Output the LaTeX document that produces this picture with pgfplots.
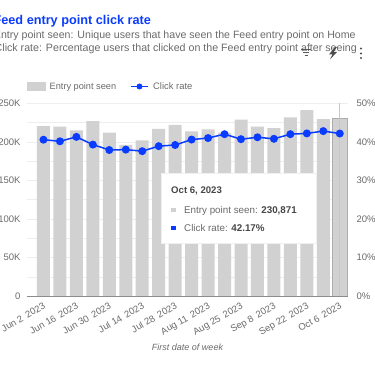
\documentclass[border=0pt]{standalone}
\usepackage{pgfplots}
\usepackage{fontspec}
\setmainfont{Liberation Sans}
\pgfplotsset{compat=1.18}
\definecolor{barc}{HTML}{D1D1D1}
\definecolor{bluec}{HTML}{0A3CFF}
\definecolor{txt}{HTML}{6A6A6A}
\definecolor{gridc}{HTML}{EEEEEE}
\pgfplotstableread{
x seen
0 220500
1 219700
2 215000
3 227000
4 212000
5 196000
6 202000
7 217000
8 222000
9 213600
10 216300
11 212000
12 229000
13 219700
14 218000
15 231800
16 241000
17 229600
}\seen
\pgfplotstableread{
x rate
0 40.57
1 40.16
2 41.3
3 39.3
4 37.9
5 38.0
6 37.6
7 38.9
8 39.2
9 40.6
10 41.0
11 42.0
12 40.7
13 41.2
14 40.8
15 42.0
16 42.2
17 42.8
18 42.17
}\rate
\begin{document}
\begin{tikzpicture}[x=1pt,y=1pt]
\path[use as bounding box] (0,0) rectangle (375,366);
\clip (0,0) rectangle (375,366);
\pgfplotsset{base/.style={
  at={(27pt,69.7pt)}, anchor=south west,
  width=321pt, height=193pt, scale only axis,
  xmin=-1.0, xmax=18.5, clip=false,
  tick style={draw=none},
  tick label style={font=\fontsize{9.5}{11}\selectfont, text=txt},
  /pgf/number format/assume math mode=true,
}}
\begin{axis}[base,
  axis y line*=left, axis x line*=bottom,
  axis line style={draw=none},
  ymin=0, ymax=250000,
  scaled y ticks=false,
  ytick={0,50000,100000,150000,200000,250000},
  yticklabels={0,50K,100K,150K,200K,250K},
  minor ytick={25000,75000,125000,175000,225000},
  ymajorgrids, yminorgrids,
  major grid style={gridc,line width=0.7pt},
  minor grid style={gridc,line width=0.7pt},
  yticklabel style={xshift=-3pt},
  xtick={0,2,...,18},
  xticklabels={Jun 2\, 2023,Jun 16\, 2023,Jun 30\, 2023,Jul 14\, 2023,Jul 28\, 2023,Aug 11\, 2023,Aug 25\, 2023,Sep 8\, 2023,Sep 22\, 2023,Oct 6\, 2023},
  xticklabel style={rotate=30, anchor=north east, xshift=0pt, yshift=-1pt},
  xlabel={First date of week},
  xlabel style={font=\fontsize{9}{11}\selectfont\itshape, text=txt, at={(axis description cs:0.5,0)}, anchor=center, yshift=-50.5pt, xshift=0pt},
]
\addplot[ybar, bar width=13pt, bar shift=0pt, fill=barc, draw=none] table[x=x,y=seen] {\seen};
\addplot[ybar, bar width=15.5pt, bar shift=0pt, fill=barc, draw=black!32, line width=0.6pt] coordinates {(18,230871)};
\addplot[black!22, line width=0.6pt] coordinates {(18,0) (18,250000)};
\addplot[black!45, line width=0.9pt] coordinates {(-1,0) (18.5,0)};
\end{axis}
\begin{axis}[base,
  axis y line*=right, axis x line=none,
  axis line style={draw=none},
  ymin=0, ymax=50,
  ytick={0,10,20,30,40,50},
  yticklabels={0\%,10\%,20\%,30\%,40\%,50\%},
  yticklabel style={anchor=west, xshift=5pt},
]
\addplot[bluec, line width=1.5pt, mark=*, mark size=3.2pt, mark options={fill=bluec,draw=bluec}] table[x=x,y=rate] {\rate};
\end{axis}
% tooltip
\fill[black!6] (160.8,121.8) rectangle (317.2,193);
\fill[white] (162,123) rectangle (316,192);
\node[anchor=base west, inner sep=0pt, text=black!72, font=\fontsize{9.6}{12}\selectfont\bfseries] at (171,172.5) {Oct 6, 2023};
\fill[barc] (171,153.5) rectangle (175.5,158);
\node[anchor=base west, inner sep=0pt, text=txt, font=\fontsize{9.8}{12}\selectfont] at (184,152.5) {Entry point seen: \textcolor{black!72}{\textbf{230,871}}};
\fill[bluec] (171,135.5) rectangle (175.5,140);
\node[anchor=base west, inner sep=0pt, text=txt, font=\fontsize{9.8}{12}\selectfont] at (184,134.5) {Click rate: \textcolor{black!72}{\textbf{42.17\%}}};
% header
\node[anchor=base west, text=bluec, font=\fontsize{12.7}{14}\selectfont\bfseries, inner sep=0pt] at (-6.6,341) {Feed entry point click rate};
\node[anchor=base west, text=txt, font=\fontsize{10.6}{13}\selectfont, inner sep=0pt] at (-6.2,327.5) {Entry point seen: Unique users that have seen the Feed entry point on Home};
\node[anchor=base west, text=txt, font=\fontsize{10.65}{13}\selectfont, inner sep=0pt] at (-5.5,314.5) {Click rate: Percentage users that clicked on the Feed entry point after seeing};
% icons
\draw[black!65, line width=0.9pt] (301,317) -- (311,317) (303,314) -- (309,314) (304.5,311) -- (307.5,311);
\fill[black!70] (335,319) -- (329,311.5) -- (332.5,311.5) -- (330,306.5) -- (337,314) -- (333.5,314) -- (337,319) -- cycle;
\fill[black!70] (361,317.5) circle (1.2) (361,312.5) circle (1.2) (361,308) circle (1.2);
% legend
\fill[barc] (27,275) rectangle (45.5,284);
\node[anchor=base west, text=txt, font=\fontsize{9.2}{11}\selectfont, inner sep=0pt] at (49.5,276) {Entry point seen};
\draw[bluec, line width=1.5pt] (131,279.5) -- (148,279.5);
\fill[bluec] (139.5,279.5) circle (3);
\node[anchor=base west, text=txt, font=\fontsize{9.4}{11}\selectfont, inner sep=0pt] at (153,276) {Click rate};
\end{tikzpicture}
\end{document}
